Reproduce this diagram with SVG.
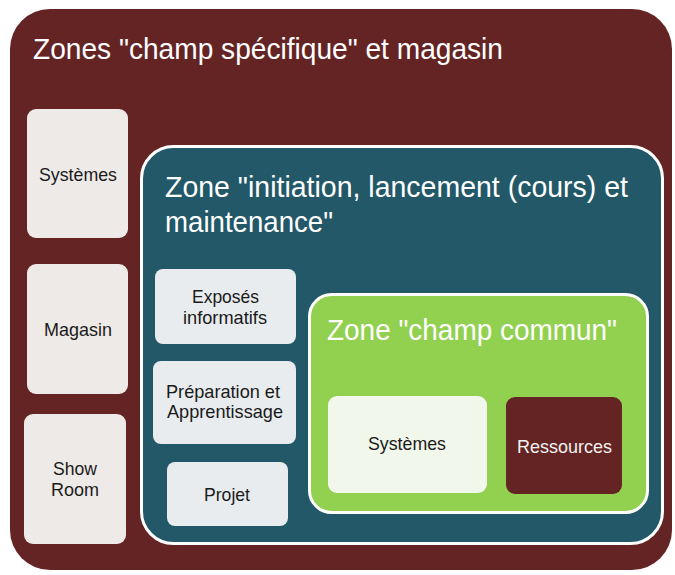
<svg xmlns="http://www.w3.org/2000/svg" width="675" height="575" viewBox="0 0 675 575">
<style>
text{font-family:"Liberation Sans",Arial,sans-serif}
.big{fill:#fff;font-size:30px}
.sm{fill:#1a1a1a;font-size:19px}
.lb{fill:#EEEAE8}
.lt{fill:#E8ECEE}
</style>
<rect width="675" height="575" fill="#fff"/>
<g id="zone-specifique">
<rect x="10" y="9" width="662" height="561" rx="40" fill="#642424"/>
<text class="big" x="33" y="59" textLength="470" lengthAdjust="spacingAndGlyphs">Zones "champ spécifique" et magasin</text>
</g>
<g id="systemes-left">
<rect class="lb" x="27" y="109" width="101" height="129" rx="9"/>
<text class="sm" x="39" y="181" textLength="78" lengthAdjust="spacingAndGlyphs">Systèmes</text>
</g>
<g id="magasin">
<rect class="lb" x="27" y="264" width="101" height="130" rx="9"/>
<text class="sm" x="44" y="336" textLength="68" lengthAdjust="spacingAndGlyphs">Magasin</text>
</g>
<g id="showroom">
<rect class="lb" x="24" y="414" width="102" height="130" rx="9"/>
<text class="sm" x="53" y="475" textLength="44" lengthAdjust="spacingAndGlyphs">Show</text>
<text class="sm" x="51" y="496" textLength="48" lengthAdjust="spacingAndGlyphs">Room</text>
</g>
<g id="zone-initiation">
<rect x="141.5" y="146.5" width="521" height="397" rx="32" fill="#225868" stroke="#fff" stroke-width="3"/>
<text class="big" x="165" y="197" textLength="463" lengthAdjust="spacingAndGlyphs">Zone "initiation, lancement (cours) et</text>
<text class="big" x="165" y="232" textLength="168" lengthAdjust="spacingAndGlyphs">maintenance"</text>
</g>
<g id="exposes">
<rect class="lt" x="155" y="269" width="141" height="75" rx="8"/>
<text class="sm" x="192" y="303" textLength="67" lengthAdjust="spacingAndGlyphs">Exposés</text>
<text class="sm" x="183" y="324" textLength="84" lengthAdjust="spacingAndGlyphs">informatifs</text>
</g>
<g id="preparation">
<rect class="lt" x="153" y="361" width="143" height="83" rx="8"/>
<text class="sm" x="166" y="398" textLength="114" lengthAdjust="spacingAndGlyphs">Préparation et</text>
<text class="sm" x="167" y="418" textLength="116" lengthAdjust="spacingAndGlyphs">Apprentissage</text>
</g>
<g id="projet">
<rect class="lt" x="167" y="462" width="121" height="64" rx="8"/>
<text class="sm" x="204" y="501" textLength="46" lengthAdjust="spacingAndGlyphs">Projet</text>
</g>
<g id="zone-commun">
<rect x="309.5" y="294.5" width="338" height="218" rx="22" fill="#92D050" stroke="#fff" stroke-width="3"/>
<text class="big" x="327" y="340" textLength="290" lengthAdjust="spacingAndGlyphs">Zone "champ commun"</text>
</g>
<g id="systemes-commun">
<rect x="328" y="396" width="159" height="97" rx="9" fill="#F2F7EC"/>
<text class="sm" x="368" y="450" textLength="78" lengthAdjust="spacingAndGlyphs">Systèmes</text>
</g>
<g id="ressources">
<rect x="506" y="397" width="116" height="97" rx="9" fill="#632423"/>
<text class="sm" x="517" y="453" textLength="95" lengthAdjust="spacingAndGlyphs" style="fill:#f2f2f2">Ressources</text>
</g>
<g id="connectors"/>
</svg>
